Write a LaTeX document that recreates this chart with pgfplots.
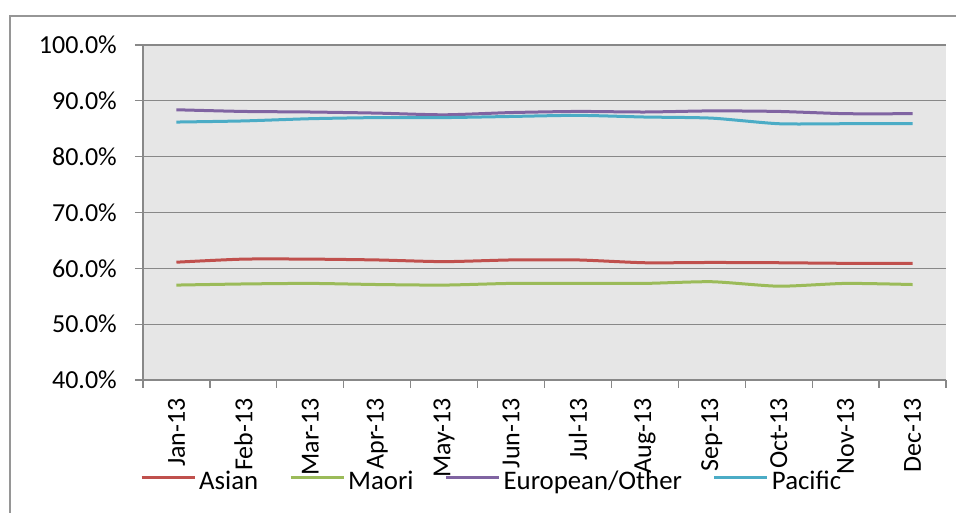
\documentclass[border=0pt]{standalone}
\usepackage{fontspec}
\setmainfont{Carlito}
\usepackage{pgfplots}
\pgfplotsset{compat=1.18}
\definecolor{cAsian}{HTML}{C0504D}
\definecolor{cMaori}{HTML}{9BBB59}
\definecolor{cEuro}{HTML}{8064A2}
\definecolor{cPac}{HTML}{4BACC6}
\definecolor{plotbg}{RGB}{230,230,230}
\definecolor{gridgray}{RGB}{136,136,136}
\definecolor{bordergray}{RGB}{150,150,150}
\begin{document}
\begin{tikzpicture}
\useasboundingbox (-143pt,-133pt) rectangle (813pt,380pt);
\draw[bordergray, line width=1.2pt] (-133pt,-133pt) -- (-133pt,364pt) -- (813pt,364pt);
\begin{axis}[
  at={(0pt,0pt)}, anchor=south west,
  scale only axis, width=803pt, height=335pt,
  xmin=-0.5, xmax=11.5, ymin=40, ymax=100,
  axis background/.style={fill=plotbg},
  axis lines*=left,
  axis line style={gridgray, line width=1.3pt},
  every tick/.style={gridgray, line width=1.3pt},
  tick align=outside,
  major tick length=8pt,
  ytick={40,50,60,70,80,90,100},
  yticklabels={40.0\%,50.0\%,60.0\%,70.0\%,80.0\%,90.0\%,100.0\%},
  ymajorgrids,
  major grid style={gridgray, line width=1.3pt},
  xtick={-0.5,0.5,...,11.5},
  xticklabels={},
  extra x ticks={0,1,2,3,4,5,6,7,8,9,10,11},
  extra x tick labels={Jan-13,Feb-13,Mar-13,Apr-13,May-13,Jun-13,Jul-13,Aug-13,Sep-13,Oct-13,Nov-13,Dec-13},
  extra x tick style={major tick length=0pt, grid=none,
    xticklabel style={yshift=-18pt, rotate=90, anchor=east, inner sep=0pt}},
  every tick label/.append style={font=\fontsize{26}{31}\selectfont, text=black},
  yticklabel style={inner sep=0pt, xshift=-18pt},
  legend columns=4,
  legend style={at={(-0.0075,-0.3015)}, anchor=west, draw=none, fill=none,
    font=\fontsize{26.8}{31}\selectfont,
    nodes={inner sep=0pt},
    /tikz/every odd column/.append style={column sep=3pt},
    /tikz/every even column/.append style={column sep=31pt}},
  legend image code/.code={\draw[#1, line width=3pt] (0pt,0.3em) -- (53pt,0.3em);},
  every axis plot/.append style={line width=3pt, smooth, tension=0.4, mark=none},
]
\addplot[cAsian] coordinates {(0,61.1)(1,61.65)(2,61.65)(3,61.5)(4,61.2)(5,61.5)(6,61.5)(7,61.0)(8,61.05)(9,61.0)(10,60.9)(11,60.9)};
\addlegendentry{Asian}
\addplot[cMaori] coordinates {(0,57.0)(1,57.2)(2,57.3)(3,57.1)(4,57.0)(5,57.3)(6,57.3)(7,57.3)(8,57.6)(9,56.8)(10,57.3)(11,57.1)};
\addlegendentry{Maori}
\addplot[cEuro] coordinates {(0,88.4)(1,88.1)(2,88.0)(3,87.8)(4,87.5)(5,87.9)(6,88.1)(7,88.0)(8,88.2)(9,88.1)(10,87.7)(11,87.7)};
\addlegendentry{European/Other}
\addplot[cPac] coordinates {(0,86.2)(1,86.4)(2,86.8)(3,87.0)(4,87.0)(5,87.2)(6,87.4)(7,87.1)(8,86.9)(9,85.9)(10,85.9)(11,85.9)};
\addlegendentry{Pacific}
\end{axis}
\end{tikzpicture}
\end{document}
